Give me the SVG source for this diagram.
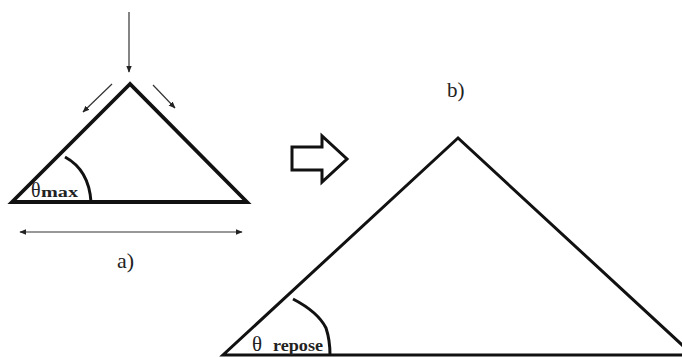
<svg xmlns="http://www.w3.org/2000/svg" width="682" height="357" viewBox="0 0 682 357">
<defs>
<marker id="ah" viewBox="0 0 10 10" refX="9" refY="5" markerWidth="7" markerHeight="7" orient="auto-start-reverse" markerUnits="userSpaceOnUse">
<path d="M0,1 L10,5 L0,9 z" fill="#222"/>
</marker>
<style>
.thin{stroke:#333;stroke-width:1.2;fill:none}
.tri{stroke:#111;fill:none;stroke-linejoin:miter}
.lbl{font-family:"Liberation Serif",serif;fill:#222}
</style>
</defs>
<rect width="682" height="357" fill="#fff"/>
<g id="triangle-a">
<polygon class="tri" stroke-width="3.8" points="130,84 12,202 247,202"/>
<path class="tri" stroke-width="3" d="M65,157 Q89,170 91,202"/>
<text class="lbl" x="31" y="197" font-size="20">θ</text>
<text class="lbl" x="41" y="197" font-size="15" font-weight="bold" textLength="37" lengthAdjust="spacingAndGlyphs">max</text>
</g>
<g id="triangle-b">
<polygon class="tri" stroke-width="3" points="458,138 223,355 693,355"/>
<path class="tri" stroke-width="3" d="M293,299 Q318,312 326,328 Q330,340 330,355"/>
<text class="lbl" x="252" y="351" font-size="21">θ</text>
<text class="lbl" x="273" y="351" font-size="17" font-weight="bold" textLength="50" lengthAdjust="spacingAndGlyphs">repose</text>
</g>
<g id="hollow-arrow">
<polygon points="292,147 322,147 322,136 347,159 322,182 322,170 292,170" fill="#fff" stroke="#111" stroke-width="3" stroke-linejoin="miter"/>
</g>
<g id="labels">
<text class="lbl" x="117" y="268" font-size="22">a)</text>
<text class="lbl" x="447" y="97" font-size="21">b)</text>
</g>
<g id="connectors">
<line class="thin" x1="129" y1="12" x2="129" y2="72" marker-end="url(#ah)"/>
<line class="thin" x1="112" y1="84" x2="83" y2="112" marker-end="url(#ah)"/>
<line class="thin" x1="153" y1="85" x2="175" y2="108" marker-end="url(#ah)"/>
<line class="thin" x1="20" y1="232" x2="242" y2="232" marker-start="url(#ah)" marker-end="url(#ah)"/>
</g>
</svg>
